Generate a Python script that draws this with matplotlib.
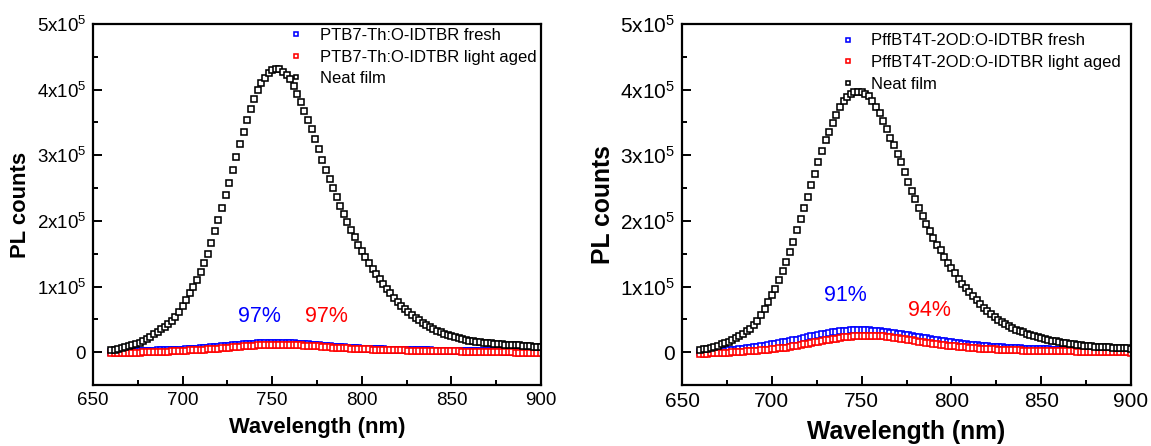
import numpy as np
import matplotlib
matplotlib.use("Agg")
import matplotlib.pyplot as plt
from matplotlib.ticker import MultipleLocator, FuncFormatter

plt.rcParams['font.family'] = ['Liberation Sans', 'DejaVu Sans']
plt.rcParams['mathtext.fontset'] = 'custom'
plt.rcParams['mathtext.rm'] = 'Liberation Sans'
plt.rcParams['mathtext.default'] = 'regular'

# Wavelength grid (nm)
wavelength = list(range(660, 901, 2))

# ---- Left panel (PTB7-Th:O-IDTBR), counts in units of 1e3 ----
left_neat = [3, 4, 5, 6, 7.5, 9, 10.5, 12, 14, 17,
             20, 23.5, 27, 31, 35, 39, 43, 48, 54, 61,
             70, 79, 90, 100, 110, 122, 136, 150, 167, 184,
             202, 220, 239, 258, 278, 298, 317, 335, 353, 370,
             386, 399, 410, 418, 425, 430, 432, 431, 427, 422,
             416, 406, 394, 381, 367, 354, 340, 325, 309, 293,
             278, 264, 250, 236, 222, 210, 198, 186, 175, 164,
             154, 145, 136, 127, 119, 111, 104, 97, 90, 83,
             76, 71, 66, 61.5, 57, 52.5, 49, 45, 41.5, 38,
             35, 32, 30, 28, 26, 24, 22.5, 21, 19.5, 18.5,
             17.5, 16.5, 15.5, 15, 14.5, 14, 13.5, 13, 12.5, 12,
             11.5, 11, 10.8, 10.5, 10.2, 9.8, 9.4, 9, 8.6, 8.2,
             7.8]
left_fresh = [0, 0.2, 0.4, 0.6, 0.8, 1.0, 1.2, 1.4, 1.6, 1.8,
              2.0, 2.2, 2.4, 2.6, 2.8, 3.0, 3.2, 3.4, 3.6, 3.8,
              4.0, 4.4, 4.8, 5.2, 5.6, 6.0, 6.5, 7.0, 7.5, 8.0,
              8.5, 9.0, 9.5, 10.0, 10.5, 11.0, 11.5, 12.0, 12.4, 12.8,
              13.1, 13.4, 13.6, 13.8, 14.0, 14.1, 14.2, 14.2, 14.1, 14.0,
              13.8, 13.5, 13.2, 12.8, 12.4, 12.0, 11.5, 11.0, 10.5, 10.0,
              9.5, 9.0, 8.5, 8.0, 7.6, 7.2, 6.8, 6.4, 6.1, 5.8,
              5.5, 5.2, 5.0, 4.8, 4.6, 4.4, 4.2, 4.0, 3.8, 3.6,
              3.5, 3.4, 3.3, 3.2, 3.1, 3.0, 2.9, 2.8, 2.7, 2.6,
              2.5, 2.4, 2.3, 2.2, 2.1, 2.0, 1.9, 1.8, 1.7, 1.6,
              1.5, 1.5, 1.4, 1.4, 1.3, 1.3, 1.2, 1.2, 1.1, 1.1,
              1.0, 1.0, 0.9, 0.9, 0.8, 0.8, 0.7, 0.7, 0.6, 0.6,
              0.5]
left_aged = [-1.5, -1.4, -1.3, -1.2, -1.1, -1.0, -0.9, -0.8, -0.6, -0.4,
             -0.2, 0.0, 0.2, 0.4, 0.6, 0.8, 1.0, 1.2, 1.4, 1.7,
             2.0, 2.3, 2.6, 2.9, 3.2, 3.6, 4.0, 4.4, 4.8, 5.2,
             5.6, 6.0, 6.5, 7.0, 7.5, 8.0, 8.5, 9.0, 9.4, 9.8,
             10.1, 10.4, 10.6, 10.8, 11.0, 11.1, 11.2, 11.2, 11.2, 11.1,
             11.0, 10.8, 10.6, 10.4, 10.1, 9.8, 9.5, 9.1, 8.7, 8.3,
             7.9, 7.5, 7.1, 6.7, 6.3, 6.0, 5.7, 5.4, 5.1, 4.8,
             4.5, 4.3, 4.1, 3.9, 3.7, 3.5, 3.3, 3.1, 3.0, 2.9,
             2.8, 2.7, 2.6, 2.5, 2.4, 2.3, 2.2, 2.1, 2.0, 1.9,
             1.8, 1.7, 1.6, 1.5, 1.4, 1.3, 1.2, 1.1, 1.0, 0.9,
             0.8, 0.7, 0.6, 0.5, 0.4, 0.3, 0.2, 0.1, 0.0, -0.1,
             -0.2, -0.3, -0.4, -0.5, -0.5, -0.6, -0.6, -0.7, -0.7, -0.8,
             -0.8]

# ---- Right panel (PffBT4T-2OD:O-IDTBR), counts in units of 1e3 ----
right_neat = [3.5, 4.5, 5.5, 6.6, 8, 10, 12, 14, 16, 18,
              21, 24, 28, 32, 36, 41, 48, 57, 66, 76,
              87, 97, 110, 124, 138, 153, 168, 186, 203, 219,
              237, 255, 272, 289, 306, 323, 336, 349, 362, 374,
              383, 389, 393, 396, 397, 396, 394, 390, 383, 374,
              364, 352, 340, 327, 315, 302, 289, 274, 260, 246,
              233, 220, 208, 195, 184, 174, 164, 155, 145, 136,
              128, 120, 112, 104.5, 97.5, 91, 85, 79, 73, 67.5,
              63, 58, 53.5, 49.5, 45.5, 42.5, 39.5, 37, 34.5, 32.5,
              30, 28, 26, 24.5, 23, 21.5, 20, 18.5, 17.5, 16.5,
              15.5, 14.5, 13.5, 12.8, 12, 11.3, 10.6, 10, 9.5, 9,
              8.5, 8.2, 7.8, 7.5, 7.2, 6.9, 6.6, 6.3, 6, 5.8,
              5.6]
right_fresh = [0.0, 0.3, 0.6, 0.9, 1.2, 1.5, 1.9, 2.3, 2.7, 3.1,
               4.0, 4.6, 5.2, 5.8, 6.5, 7.2, 8.0, 8.8, 9.7, 10.8,
               12.0, 13.0, 14.0, 15.0, 16.0, 17.0, 18.0, 19.2, 20.4, 21.6,
               22.8, 24.0, 25.2, 26.3, 27.4, 28.4, 29.4, 30.3, 31.1, 31.8,
               32.4, 32.8, 33.1, 33.3, 33.4, 33.4, 33.3, 33.1, 32.8, 32.4,
               31.9, 31.3, 30.6, 29.9, 29.1, 28.3, 27.4, 26.5, 25.6, 24.7,
               23.8, 22.9, 22.0, 21.1, 20.2, 19.3, 18.4, 17.5, 16.6, 15.8,
               15.0, 14.2, 13.5, 12.8, 12.1, 11.5, 10.9, 10.3, 9.8, 9.3,
               8.8, 8.4, 8.0, 7.6, 7.2, 6.9, 6.6, 6.3, 6.0, 5.8,
               5.6, 5.4, 5.2, 5.0, 4.8, 4.6, 4.4, 4.2, 4.0, 3.9,
               3.8, 3.7, 3.6, 3.5, 3.4, 3.3, 3.2, 3.1, 3.0, 2.9,
               2.8, 2.7, 2.6, 2.5, 2.4, 2.3, 2.2, 2.1, 2.0, 1.9,
               1.8]
right_aged = [-2.5, -2.3, -2.1, -1.9, -1.7, -1.5, -1.2, -0.9, -0.6, -0.3,
              0.0, 0.4, 0.8, 1.2, 1.6, 2.0, 2.5, 3.0, 3.5, 4.0,
              4.5, 5.1, 5.7, 6.4, 7.1, 7.9, 8.8, 9.8, 10.8, 11.8,
              12.8, 13.8, 14.8, 15.8, 16.8, 17.8, 18.8, 19.8, 20.8, 21.7,
              22.5, 23.2, 23.8, 24.3, 24.7, 25.0, 25.1, 25.1, 25.0, 24.8,
              24.4, 23.9, 23.3, 22.6, 21.8, 21.0, 20.2, 19.4, 18.6, 17.8,
              17.0, 16.2, 15.4, 14.6, 13.8, 13.0, 12.2, 11.4, 10.7, 10.0,
              9.4, 8.8, 8.2, 7.7, 7.2, 6.7, 6.3, 5.9, 5.5, 5.1,
              4.8, 4.5, 4.2, 3.9, 3.7, 3.5, 3.3, 3.1, 2.9, 2.7,
              2.5, 2.4, 2.3, 2.2, 2.1, 2.0, 1.9, 1.8, 1.7, 1.6,
              1.5, 1.4, 1.3, 1.2, 1.1, 1.0, 0.9, 0.8, 0.7, 0.6,
              0.5, 0.4, 0.3, 0.2, 0.1, 0.0, -0.1, -0.2, -0.3, -0.4,
              -0.5]

left_labels = ["PTB7-Th:O-IDTBR fresh", "PTB7-Th:O-IDTBR light aged", "Neat film"]
right_labels = ["PffBT4T-2OD:O-IDTBR fresh", "PffBT4T-2OD:O-IDTBR light aged", "Neat film"]
left_quench = ["97%", "97%"]
right_quench = ["91%", "94%"]

BLUE = "#0000ff"
RED = "#ff0000"
BLACK = "#000000"


def ytick_fmt(v, pos):
    n = int(round(v / 1e5))
    if n == 0:
        return "0"
    return r"%dx10$^{5}$" % n


fig = plt.figure(figsize=(11.51, 4.46), dpi=100)
ax1 = fig.add_axes([93 / 1151, 61 / 446, 448 / 1151, 361 / 446])
ax2 = fig.add_axes([682 / 1151, 61 / 446, 449 / 1151, 361 / 446])


def draw(ax, fresh, aged, neat, labels, tick_fs, label_fs, leg_fs, leg_anchor, leg_pad):
    x = np.array(wavelength)
    kw = dict(ls='none', marker='s', ms=4.7, mew=1.15, mfc='white')
    ax.plot(x, np.array(fresh) * 1e3, color=BLUE, mec=BLUE, label=labels[0], **kw)
    ax.plot(x, np.array(aged) * 1e3, color=RED, mec=RED, label=labels[1], **kw)
    ax.plot(x, np.array(neat) * 1e3, color=BLACK, mec=BLACK, label=labels[2], **kw)
    ax.set_xlim(650, 900)
    ax.set_ylim(-0.5e5, 5e5)
    ax.xaxis.set_major_locator(MultipleLocator(50))
    ax.xaxis.set_minor_locator(MultipleLocator(25))
    ax.yaxis.set_major_locator(MultipleLocator(1e5))
    ax.yaxis.set_minor_locator(MultipleLocator(0.5e5))
    ax.yaxis.set_major_formatter(FuncFormatter(ytick_fmt))
    ax.tick_params(which='both', direction='in', top=False, right=False, width=1.4)
    ax.tick_params(which='major', length=6.5, labelsize=tick_fs, pad=5)
    ax.tick_params(which='minor', length=3.6)
    for s in ax.spines.values():
        s.set_linewidth(1.6)
    ax.set_xlabel("Wavelength (nm)", fontsize=label_fs, fontweight='bold', labelpad=6)
    ax.set_ylabel("PL counts", fontsize=label_fs, fontweight='bold', labelpad=4)
    leg = ax.legend(loc='upper left', bbox_to_anchor=leg_anchor, frameon=False,
                    fontsize=leg_fs, handlelength=0.8, handletextpad=leg_pad,
                    borderpad=0, borderaxespad=0, labelspacing=0.4, markerscale=0.75)
    return leg


draw(ax1, left_fresh, left_aged, left_neat, left_labels, 13.5, 15.8, 12, (0.438, 0.989), 1.05)
draw(ax2, right_fresh, right_aged, right_neat, right_labels, 15, 17.8, 12, (0.355, 0.974), 1.0)
ax2.xaxis.labelpad = 6.5
ax2.yaxis.labelpad = 4

ax1.text(743, 0.54e5, left_quench[0], color=BLUE, fontsize=15.5, ha='center', va='center')
ax1.text(780, 0.54e5, left_quench[1], color=RED, fontsize=15.5, ha='center', va='center')
ax2.text(741, 0.87e5, right_quench[0], color=BLUE, fontsize=15.5, ha='center', va='center')
ax2.text(788, 0.64e5, right_quench[1], color=RED, fontsize=15.5, ha='center', va='center')

fig.savefig("out.png", dpi=100)
